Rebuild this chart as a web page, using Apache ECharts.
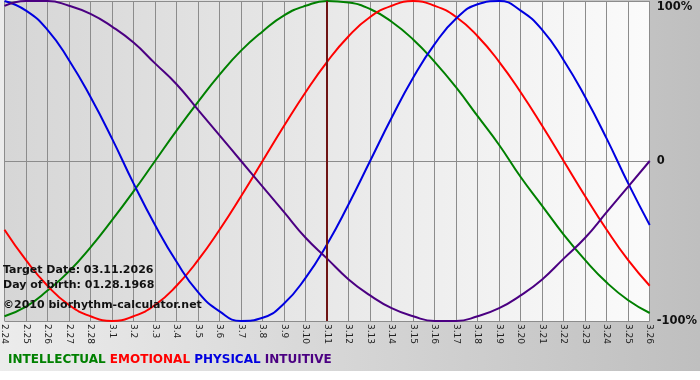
<!DOCTYPE html>
<html>
<head>
<meta charset="utf-8">
<script src="https://cdn.jsdelivr.net/npm/echarts@6/dist/echarts.min.js"></script>
<style>
  html, body { margin: 0; padding: 0; background: #fff; }
  #bioChart { width: 700px; height: 380px; }
</style>
</head>
<body>
<div id="bioChart"></div>
<script>
// days shown, target day is 3.11
var days = ['2.24', '2.25', '2.26', '2.27', '2.28', '3.1', '3.2', '3.3', '3.4', '3.5',
    '3.6', '3.7', '3.8', '3.9', '3.10', '3.11', '3.12', '3.13', '3.14', '3.15',
    '3.16', '3.17', '3.18', '3.19', '3.20', '3.21', '3.22', '3.23', '3.24', '3.25', '3.26'];

// values in percent
var intellectual = [-97, -91, -81, -69, -54, -37, -19, 0, 19, 37,
    54, 69, 81, 91, 97, 100, 99, 95, 87, 76,
    62, 46, 28, 10, -10, -28, -46, -62, -76, -87, -95];
var emotional = [-43, -62, -78, -90, -97, -100, -97, -90, -78, -62,
    -43, -22, 0, 22, 43, 62, 78, 90, 97, 100,
    97, 90, 78, 62, 43, 22, 0, -22, -43, -62, -78];
var physical = [100, 94, 82, 63, 40, 14, -14, -40, -63, -82,
    -94, -100, -98, -89, -73, -52, -27, 0, 27, 52,
    73, 89, 98, 100, 94, 82, 63, 40, 14, -14, -40];
var intuitive = [97, 100, 100, 97, 92, 84, 74, 61, 48, 32,
    16, 0, -16, -32, -48, -61, -74, -84, -92, -97,
    -100, -100, -97, -92, -84, -74, -61, -48, -32, -16, 0];

var yTicks = [-100, 0, 100];
var targetDay = '3.11';

(function () {
    var bioChart = echarts.init(document.getElementById('bioChart'));

    var labelFont = 'DejaVu Sans';

    var option = {
        animation: false,
        backgroundColor: {
            type: 'linear', x: 0, y: 0, x2: 1, y2: 0,
            colorStops: [{offset: 0, color: '#ececec'}, {offset: 1, color: '#bfbfbf'}]
        },
        grid: {
            left: 0,
            right: 49,
            top: 1,
            bottom: 59,
            show: true,
            borderWidth: 0,
            backgroundColor: {
                type: 'linear', x: 0, y: 0, x2: 1, y2: 0,
                colorStops: [{offset: 0, color: '#d6d6d6'}, {offset: 1, color: '#fbfbfb'}]
            }
        },
        xAxis: {
            type: 'category',
            data: days,
            boundaryGap: false,
            axisLine: {lineStyle: {color: '#8c8c8c', width: 1}},
            axisTick: {show: true, interval: 0, length: 4, lineStyle: {color: '#8c8c8c'}},
            axisLabel: {
                interval: 0,
                rotate: -90,
                margin: 3,
                fontSize: 9,
                fontFamily: labelFont,
                color: '#222'
            },
            splitLine: {show: true, interval: 0, lineStyle: {color: '#8c8c8c', width: 1}}
        },
        yAxis: {
            type: 'value',
            position: 'right',
            min: yTicks[0],
            max: yTicks[2],
            interval: 100,
            axisLine: {show: false},
            axisTick: {show: false},
            axisLabel: {
                margin: 7,
                fontSize: 11.5,
                fontWeight: 'bold',
                fontFamily: labelFont,
                color: '#111',
                verticalAlignMaxLabel: 'top',
                formatter: function (v) {
                    return v === 0 ? '0' : v + '%';
                }
            },
            splitLine: {lineStyle: {color: '#8c8c8c', width: 1}}
        },
        series: [
            {
                name: 'INTELLECTUAL', type: 'line', data: intellectual,
                smooth: true, showSymbol: false,
                lineStyle: {color: '#008000', width: 2}
            },
            {
                name: 'EMOTIONAL', type: 'line', data: emotional,
                smooth: true, showSymbol: false,
                lineStyle: {color: '#ff0000', width: 2}
            },
            {
                name: 'PHYSICAL', type: 'line', data: physical,
                smooth: true, showSymbol: false,
                lineStyle: {color: '#0000e0', width: 2}
            },
            {
                name: 'INTUITIVE', type: 'line', data: intuitive,
                smooth: true, showSymbol: false,
                lineStyle: {color: '#4b0082', width: 2},
                markLine: {
                    silent: true,
                    symbol: 'none',
                    label: {show: false},
                    lineStyle: {color: '#6e1414', width: 2, type: 'solid'},
                    data: [{xAxis: targetDay}]
                }
            }
        ],
        graphic: [
            {
                type: 'rect', left: 0, top: 371, z: -1,
                shape: {width: 700, height: 9},
                style: {fill: '#ffffff'}
            },
            {
                type: 'text', left: 3, top: 263, z: 100,
                style: {
                    text: 'Target Date: 03.11.2026\nDay of birth: 01.28.1968',
                    font: 'bold 11px DejaVu Sans',
                    lineHeight: 15,
                    fill: '#111'
                }
            },
            {
                type: 'text', left: 3, top: 300, z: 100,
                style: {
                    text: '\u00a92010 biorhythm-calculator.net',
                    font: 'bold 11px DejaVu Sans',
                    fill: '#111'
                }
            },
            {
                type: 'text', left: 8, top: 354, z: 100,
                style: {
                    text: '{g|INTELLECTUAL} {r|EMOTIONAL} {b|PHYSICAL} {p|INTUITIVE}',
                    font: 'bold 12px DejaVu Sans',
                    rich: {
                        g: {fill: '#008000', font: 'bold 12px DejaVu Sans'},
                        r: {fill: '#ff0000', font: 'bold 12px DejaVu Sans'},
                        b: {fill: '#0000e0', font: 'bold 12px DejaVu Sans'},
                        p: {fill: '#4b0082', font: 'bold 12px DejaVu Sans'}
                    }
                }
            }
        ]
    };
    bioChart.setOption(option);
}());
</script>
</body>
</html>
